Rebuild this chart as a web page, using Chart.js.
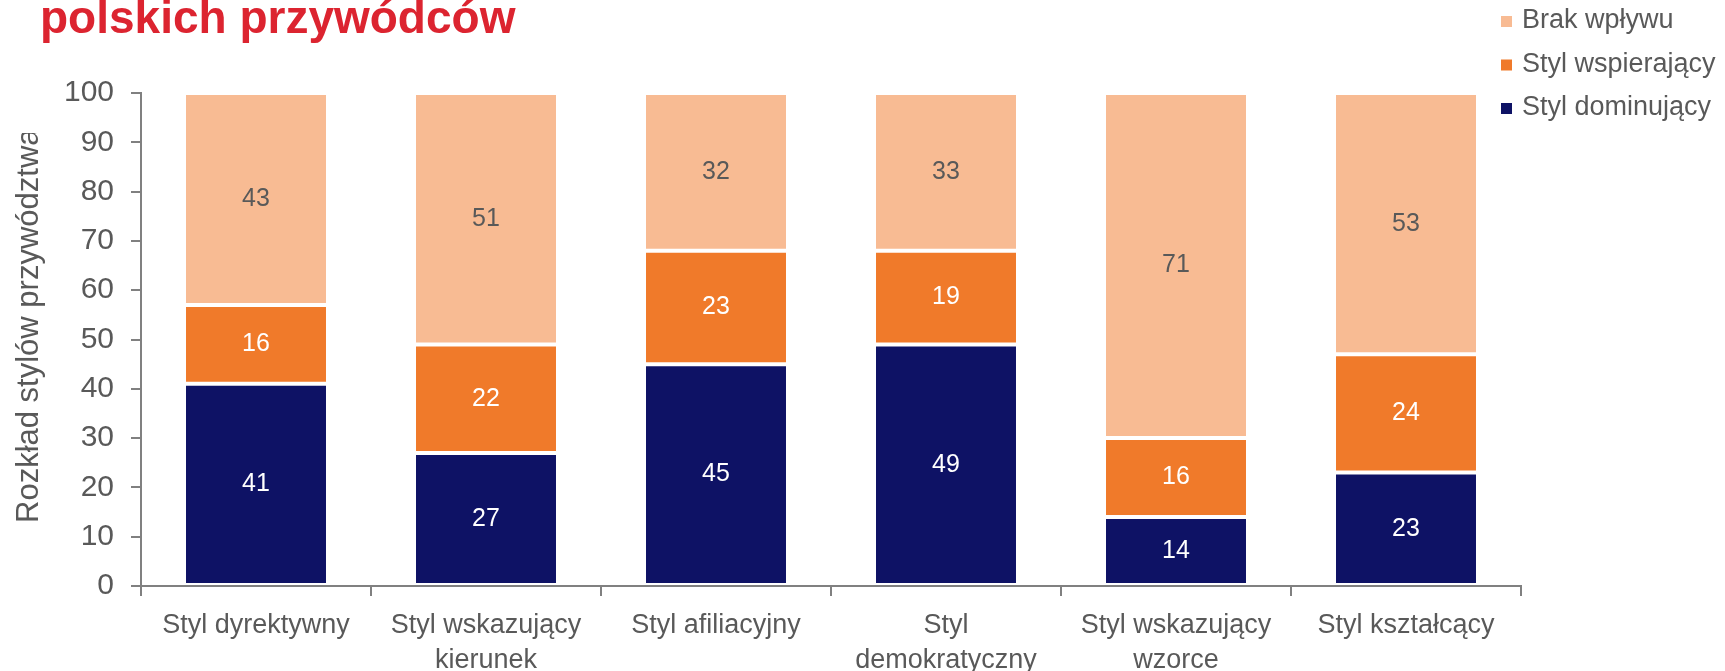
<!DOCTYPE html>
<html lang="pl">
<head>
  <meta charset="UTF-8">
  <title>Style przywództwa polskich przywódców</title>
  <script src="https://cdn.jsdelivr.net/npm/chart.js@4"></script>
  <style>
    body {
      margin: 0;
      background: #fff;
    }
    #wrap {
      width: 1725px;
      height: 671px;
    }
  </style>
</head>
<body>
  <div id="wrap"><canvas id="styleChart" width="1725" height="671"></canvas></div>

  <script>
    // --- data ---
    const categories = [
      'Styl dyrektywny',
      ['Styl wskazujący', 'kierunek'],
      'Styl afiliacyjny',
      ['Styl', 'demokratyczny'],
      ['Styl wskazujący', 'wzorce'],
      'Styl kształcący'
    ];
    const dominujacy = [41, 27, 45, 49, 14, 23];
    const wspierajacy = [16, 22, 23, 19, 16, 24];
    const brakWplywu = [43, 51, 32, 33, 71, 53];
    const yTickValues = [0, 10, 20, 30, 40, 50, 60, 70, 80, 90, 100];

    const chartTitle = 'polskich przywódców';
    const yTitle = 'Rozkład stylów przywództwa';

    const FONT = "'Liberation Sans', Arial, sans-serif";
    const GREY = '#595959';
    const AXIS = '#808080';

    // value labels centred inside each segment
    const segmentLabels = {
      id: 'segmentLabels',
      afterDatasetsDraw(chart) {
        const ctx = chart.ctx;
        const area = chart.chartArea;
        ctx.save();
        ctx.font = `25px ${FONT}`;
        ctx.textAlign = 'center';
        ctx.textBaseline = 'middle';
        chart.data.datasets.forEach((ds, i) => {
          const meta = chart.getDatasetMeta(i);
          ctx.fillStyle = ds.labelColor;
          meta.data.forEach((bar, j) => {
            const p = bar.getProps(['x', 'y', 'base'], true);
            const top = Math.max(Math.min(p.y, p.base), area.top);
            const bottom = Math.max(p.y, p.base);
            ctx.fillText(String(ds.data[j]), p.x, (top + bottom) / 2);
          });
        });
        ctx.restore();
      }
    };

    // title, rotated axis title and the stacked legend on the right
    const decorations = {
      id: 'decorations',
      afterDraw(chart) {
        const ctx = chart.ctx;
        ctx.save();

        ctx.fillStyle = '#dc2430';
        ctx.font = `bold 46px ${FONT}`;
        ctx.textAlign = 'left';
        ctx.textBaseline = 'alphabetic';
        ctx.fillText(chartTitle, 40, 33);

        // axis title is cut off by its text box
        ctx.save();
        ctx.beginPath();
        ctx.rect(0, 133, 70, 460);
        ctx.clip();
        ctx.translate(29, 523);
        ctx.rotate(-Math.PI / 2);
        ctx.font = `31px ${FONT}`;
        ctx.fillStyle = GREY;
        ctx.textAlign = 'left';
        ctx.textBaseline = 'middle';
        ctx.fillText(yTitle, 0, 0);
        ctx.restore();

        // legend, top series first
        ctx.font = `27px ${FONT}`;
        ctx.textBaseline = 'middle';
        const sets = chart.data.datasets.slice().reverse();
        sets.forEach((ds, row) => {
          const cy = 21 + row * 43.5;
          ctx.fillStyle = ds.backgroundColor;
          ctx.fillRect(1501, cy - 5, 11, 11);
          ctx.fillStyle = GREY;
          ctx.fillText(ds.label, 1522, cy);
        });

        ctx.restore();
      }
    };

    const seriesStyle = {
      borderColor: '#ffffff',
      borderWidth: 2,
      borderSkipped: false,
      // stacks summing past 100 stop at the same white edge as the rest
      clip: { top: -2, left: false, right: false, bottom: false },
      barPercentage: 0.626,
      categoryPercentage: 1
    };

    new Chart(document.getElementById('styleChart'), {
      type: 'bar',
      data: {
        labels: categories,
        datasets: [
          { label: 'Styl dominujący', data: dominujacy, backgroundColor: '#0e1265', labelColor: '#ffffff', ...seriesStyle },
          { label: 'Styl wspierający', data: wspierajacy, backgroundColor: '#f07a2a', labelColor: '#ffffff', ...seriesStyle },
          { label: 'Brak wpływu', data: brakWplywu, backgroundColor: '#f8bb93', labelColor: GREY, ...seriesStyle }
        ]
      },
      options: {
        responsive: false,
        animation: false,
        layout: { padding: { top: 93, right: 204, bottom: 0, left: 0 } },
        plugins: {
          legend: { display: false },
          tooltip: { enabled: false }
        },
        scales: {
          x: {
            stacked: true,
            grid: {
              offset: true,
              drawOnChartArea: false,
              drawTicks: true,
              tickLength: 10,
              color: AXIS,
              lineWidth: 2
            },
            border: { display: true, color: AXIS, width: 2 },
            ticks: {
              color: GREY,
              font: { family: FONT, size: 27, lineHeight: '35px' },
              padding: 12,
              maxRotation: 0,
              autoSkip: false
            },
            afterFit(scale) { scale.height = 85; }
          },
          y: {
            stacked: true,
            min: 0,
            max: 100,
            grid: {
              drawOnChartArea: false,
              drawTicks: true,
              tickLength: 10,
              color: AXIS,
              lineWidth: 2
            },
            border: { display: true, color: AXIS, width: 2 },
            ticks: {
              color: GREY,
              font: { family: FONT, size: 30 },
              padding: 17
            },
            afterBuildTicks(scale) {
              scale.ticks = yTickValues.map(v => ({ value: v }));
            },
            afterFit(scale) { scale.width = 141; }
          }
        }
      },
      plugins: [segmentLabels, decorations]
    });
  </script>
</body>
</html>
